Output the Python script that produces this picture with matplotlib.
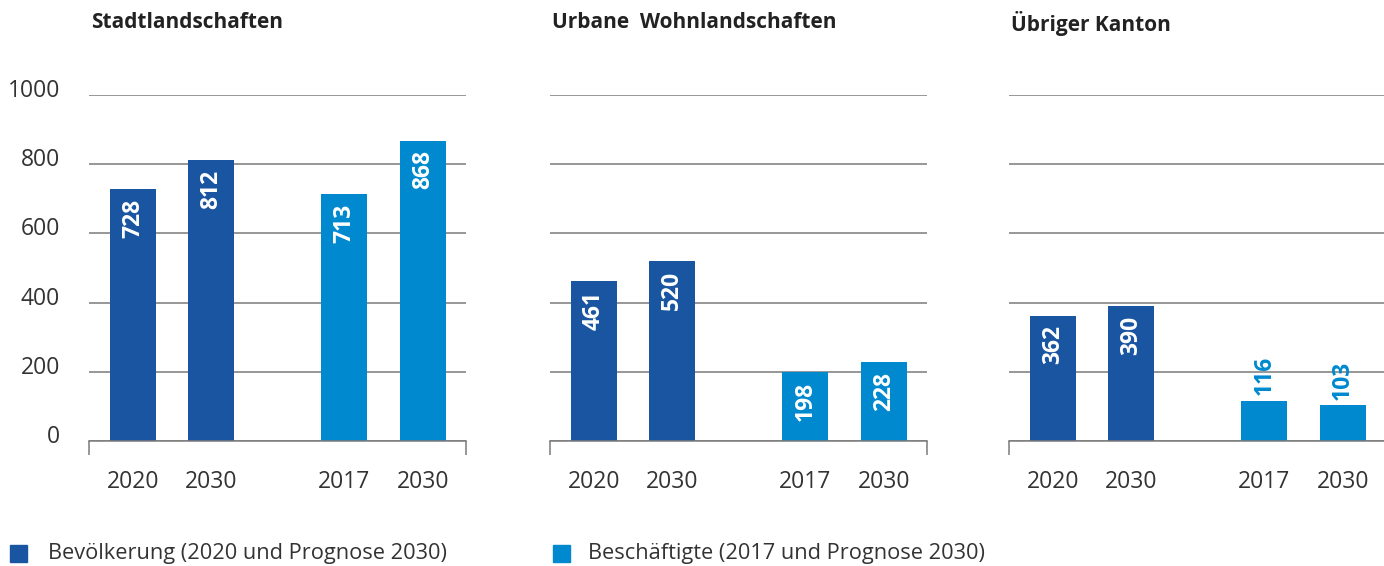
import matplotlib
matplotlib.use('Agg')
import matplotlib.pyplot as plt
from matplotlib.patches import Rectangle
from matplotlib.transforms import ScaledTranslation

plt.rcParams['font.family'] = ['Open Sans', 'DejaVu Sans']

# Daten (in Tausend)
titles = ['Stadtlandschaften', 'Urbane  Wohnlandschaften', 'Übriger Kanton']
year_labels = ['2020', '2030', '2017', '2030']
bevoelkerung = [[728, 812], [461, 520], [362, 390]]
beschaeftigte = [[713, 868], [198, 228], [116, 103]]
y_ticks = [0, 200, 400, 600, 800, 1000]
legend_labels = ['Bevölkerung (2020 und Prognose 2030)',
                 'Beschäftigte (2017 und Prognose 2030)']

DARK = '#1955a0'
LIGHT = '#0089cf'
GRID = '#7a7a7a'
TXT = '#333333'

xpos = [0, 1, 2.71, 3.72]
xlim = (-0.565, 4.27)
width = 0.59

fig = plt.figure(figsize=(13.84, 5.66), dpi=100)
lefts = [89 / 1384, 550 / 1384, 1009 / 1384]
bottom = (566 - 441) / 566
height = (441 - 95) / 566
w = 377 / 1384

for i, left in enumerate(lefts):
    ax = fig.add_axes([left, bottom, w, height])
    vals = bevoelkerung[i] + beschaeftigte[i]
    cols = [DARK, DARK, LIGHT, LIGHT]
    ax.bar(xpos, vals, width=width, color=cols, zorder=3)
    ax.set_xlim(*xlim)
    ax.set_ylim(0, 1000)
    ax.set_yticks(y_ticks)
    ax.yaxis.grid(True, color=GRID, linewidth=1.1, zorder=0)
    ax.set_axisbelow(True)
    for s in ['top', 'right', 'left']:
        ax.spines[s].set_visible(False)
    ax.spines['bottom'].set_color(GRID)
    ax.spines['bottom'].set_linewidth(1.1)
    ax.spines['bottom'].set_zorder(4)
    ax.set_xticks(xpos)
    ax.set_xticklabels(year_labels, fontsize=16.5, color=TXT)
    ax.tick_params(axis='x', which='major', length=0, pad=21)
    ax.set_xticks(list(xlim), minor=True)
    ax.tick_params(axis='x', which='minor', length=10, width=1.1, color=GRID, direction='out')
    if i == 0:
        ax.set_yticklabels([str(t) for t in y_ticks], fontsize=16.5, color=TXT)
        ax.tick_params(axis='y', length=0, pad=21)
        for lbl in ax.get_yticklabels():
            lbl.set_transform(lbl.get_transform() + ScaledTranslation(0, 5 / 72, fig.dpi_scale_trans))
    else:
        ax.tick_params(axis='y', length=0, labelleft=False)
    for x, v, c in zip(xpos, vals, cols):
        if v >= 150:
            ax.annotate(str(v), (x, v), xytext=(0, -7), textcoords='offset points',
                        rotation=90, ha='center', va='top', color='white',
                        fontsize=16.5, fontweight='bold', zorder=5)
        else:
            ax.annotate(str(v), (x, v), xytext=(0, 4), textcoords='offset points',
                        rotation=90, ha='center', va='bottom', color=c,
                        fontsize=16.5, fontweight='bold', zorder=5)
    fig.text(left + 2 / 1384, 1 - 23 / 566, titles[i], fontsize=15, fontweight='bold',
             color='#222222', ha='left', va='center')

# Legende
for (lx, tx), lab, c in zip([(10, 48), (553, 588)], legend_labels, [DARK, LIGHT]):
    fig.patches.append(Rectangle((lx / 1384, 4 / 566), 17 / 1384, 17 / 566,
                                 transform=fig.transFigure, color=c))
    fig.text(tx / 1384, 1 - 554 / 566, lab, fontsize=15.7, color=TXT, ha='left', va='center')

fig.savefig('out.png', dpi=100)
